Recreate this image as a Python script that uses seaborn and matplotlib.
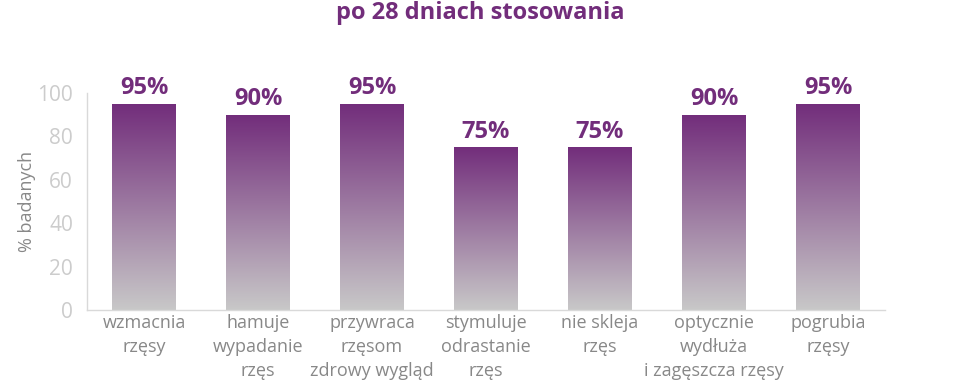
import seaborn as sns
import matplotlib.pyplot as plt
import numpy as np
import pandas as pd
from matplotlib.colors import LinearSegmentedColormap

# Data
categories = ['wzmacnia\nrzęsy', 'hamuje\nwypadanie\nrzęs', 'przywraca\nrzęsom\nzdrowy wygląd',
              'stymuluje\nodrastanie\nrzęs', 'nie skleja\nrzęs', 'optycznie\nwydłuża\ni zagęszcza rzęsy',
              'pogrubia\nrzęsy']
values = [95, 90, 95, 75, 75, 90, 95]
y_ticks = [0, 20, 40, 60, 80, 100]

purple = '#722D7B'
df = pd.DataFrame({'cat': categories, 'val': values})

sns.set_style('white')
plt.rcParams['font.family'] = ['Open Sans', 'DejaVu Sans']

fig = plt.figure(figsize=(9.6, 3.82), dpi=100)
ax = fig.add_axes([0.0906, 0.188, 0.8313, 0.569])

sns.barplot(data=df, x='cat', y='val', ax=ax, width=0.56, color=purple)

# gradient fill: purple at the top, light grey at the bottom
cmap = LinearSegmentedColormap.from_list('grad', ['#C8C8C8', purple])
grad = np.linspace(0, 1, 256).reshape(-1, 1)
for patch in ax.patches:
    x0, y0 = patch.get_x(), patch.get_y()
    w, h = patch.get_width(), patch.get_height()
    patch.set_facecolor('none')
    patch.set_edgecolor('none')
    im = ax.imshow(grad, cmap=cmap, origin='lower', aspect='auto',
                   extent=[x0, x0 + w, y0, y0 + h], zorder=2)
    im.set_clip_path(patch)
    ax.text(x0 + w / 2, h + 1.5, f'{int(h)}%', ha='center', va='bottom',
            fontsize=17, fontweight='bold', color=purple, clip_on=False)

ax.set_xlim(-0.5, len(categories) - 0.5)
ax.set_ylim(0, 100)
ax.set_yticks(y_ticks)
ax.set_xticks(range(len(categories)))
ax.set_xticklabels(categories, fontsize=13, color='#888888', linespacing=1.4)
ax.set_xticks(np.arange(0.5, len(categories) - 0.5, 1), minor=True)
ax.tick_params(axis='x', which='major', length=0, pad=3)
ax.tick_params(axis='x', which='minor', direction='in', length=4, color='#D9D9D9', width=1)
ax.tick_params(axis='y', direction='in', length=14.5, color='#D9D9D9', width=1,
               labelsize=15, labelcolor='#CCCCCC', pad=10)
ax.set_xlabel('')
ax.set_ylabel('% badanych', fontsize=13, color='#888888', labelpad=1)

for side in ['top', 'right']:
    ax.spines[side].set_visible(False)
for side in ['left', 'bottom']:
    ax.spines[side].set_color('#D9D9D9')
    ax.spines[side].set_linewidth(1)

fig.text(0.5, 0.965, 'po 28 dniach stosowania', ha='center', va='center',
         fontsize=17, fontweight='bold', color=purple)

fig.savefig('out.png', dpi=100)
